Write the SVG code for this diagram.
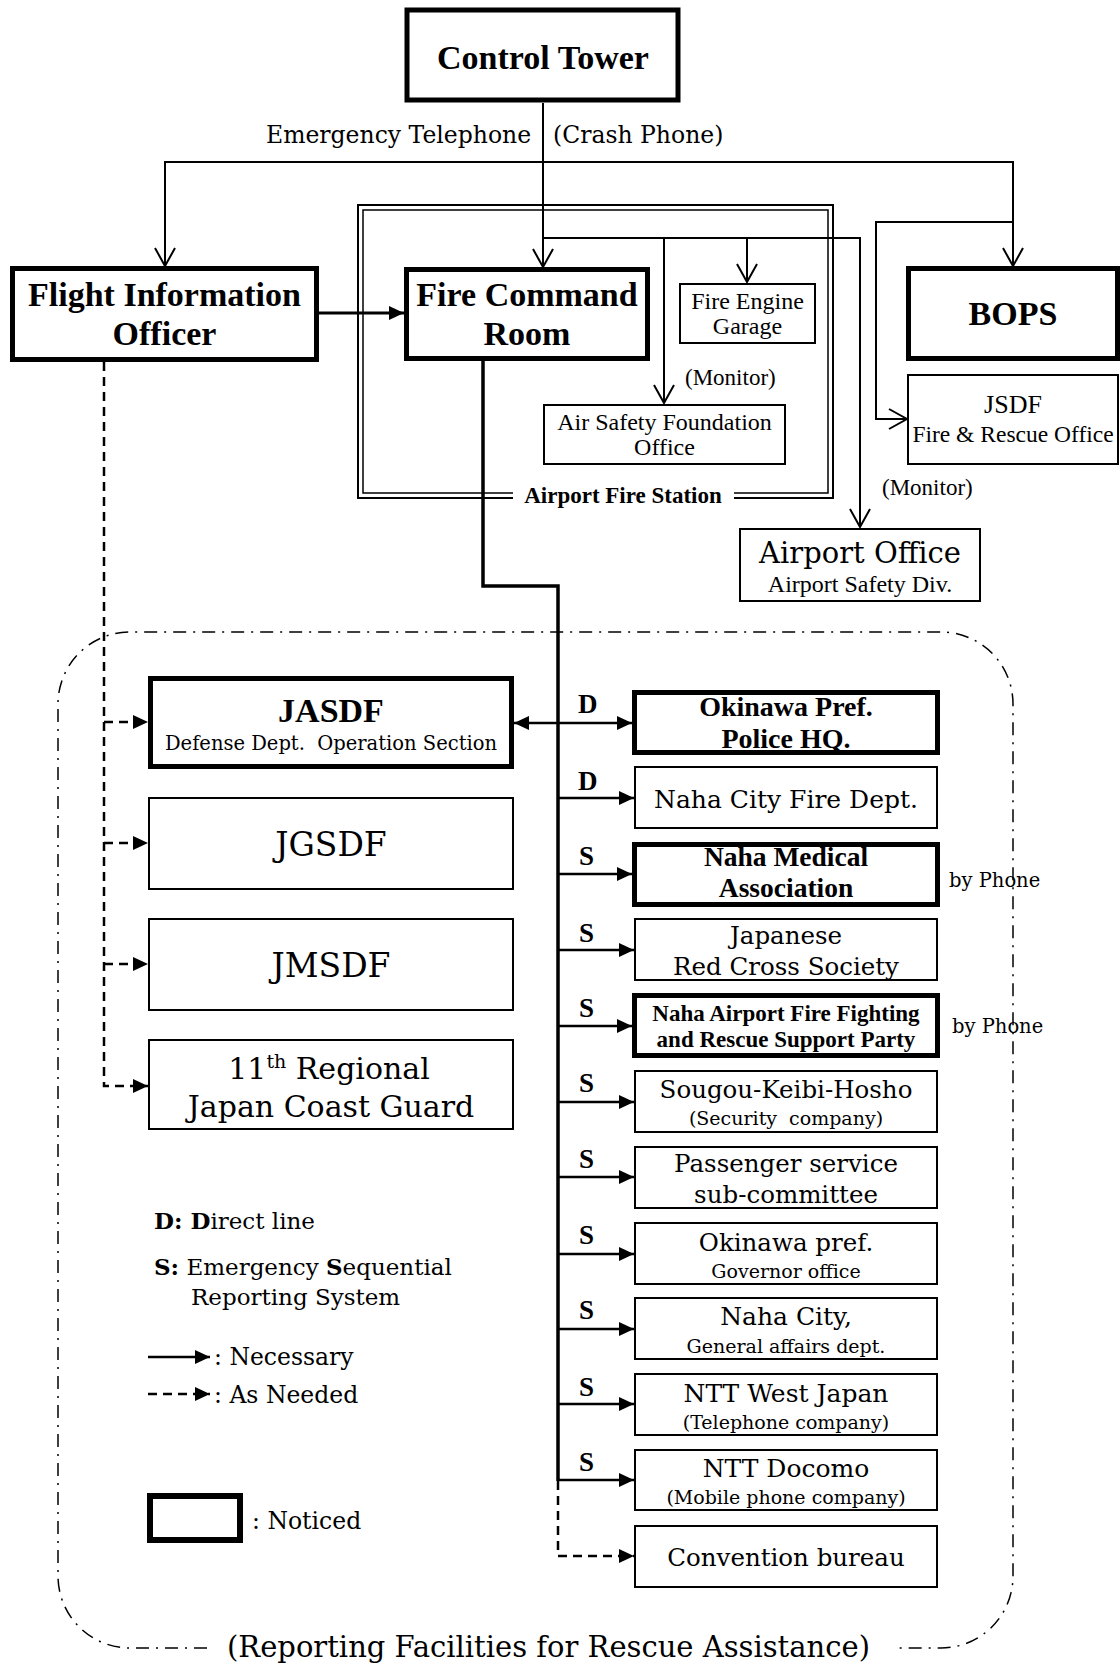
<svg xmlns="http://www.w3.org/2000/svg" width="1120" height="1663" viewBox="0 0 1120 1663">
<defs>
<style>
.bg{fill:#fff}
.bx{fill:#fff;stroke:#000;stroke-width:2}
.bk{fill:#fff;stroke:#000;stroke-width:5}
.ln{fill:none;stroke:#000;stroke-width:2}
.tk{fill:none;stroke:#000;stroke-width:3.5}
.br{fill:none;stroke:#000;stroke-width:2.5}
.ds{fill:none;stroke:#000;stroke-width:2.5;stroke-dasharray:9 6}
.dd{fill:none;stroke:#000;stroke-width:1.5;stroke-dasharray:13 7 2 7}
.cen{font-family:"DejaVu Serif","Liberation Serif",serif;fill:#000}
.tms{font-family:"Liberation Serif","DejaVu Serif",serif;fill:#000}
.tb{font-family:"Liberation Serif","DejaVu Serif",serif;font-weight:bold;fill:#000}
.m{text-anchor:middle}
</style>
<marker id="af" markerUnits="userSpaceOnUse" viewBox="0 0 15 14" markerWidth="15" markerHeight="14" refX="15" refY="7" orient="auto-start-reverse">
<path d="M0,0 L15,7 L0,14 z" fill="#000"/>
</marker>
<marker id="ao" markerUnits="userSpaceOnUse" viewBox="-2 -2 22 24" markerWidth="22" markerHeight="24" refX="18" refY="10" orient="auto">
<path d="M0,0 L18,10 L0,20" fill="none" stroke="#000" stroke-width="2"/>
</marker>
</defs>
<rect class="bg" x="0" y="0" width="1120" height="1663"/>

<!-- reporting facilities frame -->
<g id="frame">
<path class="dd" d="M207,1648 H130 A72,72 0 0 1 58,1576 V704 A72,72 0 0 1 130,632 H941 A72,72 0 0 1 1013,704 V1576 A72,72 0 0 1 941,1648 H895"/>
<text class="cen" x="227" y="1657" font-size="29">(Reporting Facilities for Rescue Assistance)</text>
</g>

<!-- airport fire station double frame -->
<g id="airport-fire-station">
<path fill="none" stroke="#000" stroke-width="2" d="M513,498 H358 V205 H833 V498 H734"/>
<path fill="none" stroke="#000" stroke-width="1.5" d="M513,493 H363 V210 H828 V493 H734"/>
<text class="tb m" x="623" y="503" font-size="23">Airport Fire Station</text>
</g>

<g id="connectors">
<path class="ln" d="M543,103 V267" marker-end="url(#ao)"/>
<path class="ln" d="M543,162 H165 V266" marker-end="url(#ao)"/>
<path class="ln" d="M543,162 H1013 V266" marker-end="url(#ao)"/>
<path class="ln" d="M1013,222 H876 V419 H907" marker-end="url(#ao)"/>
<path class="ln" d="M543,238 H860 V527" marker-end="url(#ao)"/>
<path class="ln" d="M664,238 V403" marker-end="url(#ao)"/>
<path class="ln" d="M747,238 V282" marker-end="url(#ao)"/>
<path fill="none" stroke="#000" stroke-width="3" d="M319,313 H404" marker-end="url(#af)"/>
<!-- FIO dashed -->
<path class="ds" d="M104,362 V1086 H148" marker-end="url(#af)"/>
<path class="ds" d="M104,722 H148" marker-end="url(#af)"/>
<path class="ds" d="M104,843 H148" marker-end="url(#af)"/>
<path class="ds" d="M104,964 H148" marker-end="url(#af)"/>
<!-- trunk -->
<path class="tk" d="M483,361 V586 H558 V1481"/>
<path class="br" d="M514,723 H632" marker-start="url(#af)" marker-end="url(#af)"/>
<path class="br" d="M558,798 H634" marker-end="url(#af)"/>
<path class="br" d="M558,874 H632" marker-end="url(#af)"/>
<path class="br" d="M558,950 H634" marker-end="url(#af)"/>
<path class="br" d="M558,1026 H632" marker-end="url(#af)"/>
<path class="br" d="M558,1102 H634" marker-end="url(#af)"/>
<path class="br" d="M558,1177 H634" marker-end="url(#af)"/>
<path class="br" d="M558,1254 H634" marker-end="url(#af)"/>
<path class="br" d="M558,1329 H634" marker-end="url(#af)"/>
<path class="br" d="M558,1404 H634" marker-end="url(#af)"/>
<path class="br" d="M558,1480 H634" marker-end="url(#af)"/>
<path class="ds" d="M558,1481 V1556 H634" marker-end="url(#af)"/>
</g>

<g id="connector-labels">
<text class="cen" x="266" y="143" font-size="23.5">Emergency Telephone</text>
<text class="cen" x="553" y="143" font-size="23.5">(Crash Phone)</text>
<text class="tms" x="685" y="385" font-size="23">(Monitor)</text>
<text class="tms" x="882" y="495" font-size="23">(Monitor)</text>
<g class="tb" font-size="27">
<text x="578" y="713">D</text>
<text x="578" y="790">D</text>
<text x="579" y="865">S</text>
<text x="579" y="942">S</text>
<text x="579" y="1017">S</text>
<text x="579" y="1092">S</text>
<text x="579" y="1168">S</text>
<text x="579" y="1244">S</text>
<text x="579" y="1319">S</text>
<text x="579" y="1396">S</text>
<text x="579" y="1471">S</text>
</g>
<text class="cen" x="949" y="887" font-size="19.5">by Phone</text>
<text class="cen" x="952" y="1033" font-size="19.5">by Phone</text>
</g>

<g id="control-tower">
<rect class="bk" x="407" y="10" width="271" height="90"/>
<text class="tb m" x="543" y="69" font-size="34">Control Tower</text>
</g>
<g id="flight-information-officer">
<rect class="bk" x="12.5" y="268.5" width="304" height="91"/>
<text class="tb m" x="164.5" y="306" font-size="34">Flight Information</text>
<text class="tb m" x="164.5" y="345" font-size="34">Officer</text>
</g>
<g id="fire-command-room">
<rect class="bk" x="406.5" y="269.5" width="241" height="89"/>
<text class="tb m" x="527" y="306" font-size="34">Fire Command</text>
<text class="tb m" x="527" y="345" font-size="34">Room</text>
</g>
<g id="fire-engine-garage">
<rect class="bx" x="680" y="284" width="135" height="59"/>
<text class="tms m" x="747.5" y="309" font-size="24">Fire Engine</text>
<text class="tms m" x="747.5" y="334" font-size="24">Garage</text>
</g>
<g id="air-safety-foundation-office">
<rect class="bx" x="544" y="405" width="241" height="59"/>
<text class="tms m" x="664.5" y="430" font-size="24">Air Safety Foundation</text>
<text class="tms m" x="664.5" y="455" font-size="24">Office</text>
</g>
<g id="bops">
<rect class="bk" x="908.5" y="268.5" width="209" height="90"/>
<text class="tb m" x="1013" y="325" font-size="34">BOPS</text>
</g>
<g id="jsdf-fire-rescue">
<rect class="bx" x="908" y="375" width="210" height="89"/>
<text class="tms m" x="1013" y="413" font-size="26">JSDF</text>
<text class="tms m" x="1013" y="442" font-size="23.5">Fire &amp; Rescue Office</text>
</g>
<g id="airport-office">
<rect class="bx" x="740" y="529" width="240" height="72"/>
<text class="cen m" x="860" y="563" font-size="29">Airport Office</text>
<text class="tms m" x="860" y="592" font-size="24">Airport Safety Div.</text>
</g>

<g id="jasdf">
<rect class="bk" x="150.5" y="678.5" width="361" height="88"/>
<text class="tb m" x="331" y="722" font-size="34">JASDF</text>
<text class="cen m" x="331" y="750" font-size="19.5">Defense Dept.&#160; Operation Section</text>
</g>
<g id="jgsdf">
<rect class="bx" x="149" y="798" width="364" height="91"/>
<text class="cen m" x="331" y="856" font-size="33">JGSDF</text>
</g>
<g id="jmsdf">
<rect class="bx" x="149" y="919" width="364" height="91"/>
<text class="cen m" x="331" y="977" font-size="33">JMSDF</text>
</g>
<g id="coast-guard">
<rect class="bx" x="149" y="1040" width="364" height="89"/>
<text class="cen m" x="329" y="1079" font-size="30">11<tspan dy="-11" font-size="19">th</tspan><tspan dy="11"> Regional</tspan></text>
<text class="cen m" x="331" y="1117" font-size="30">Japan Coast Guard</text>
</g>

<g id="okinawa-police">
<rect class="bk" x="634.5" y="692.5" width="303" height="60"/>
<text class="tb m" x="786" y="716" font-size="28">Okinawa Pref.</text>
<text class="tb m" x="786" y="748" font-size="28">Police HQ.</text>
</g>
<g id="naha-fire">
<rect class="bx" x="635" y="767" width="302" height="61"/>
<text class="cen m" x="786" y="808" font-size="25">Naha City Fire Dept.</text>
</g>
<g id="naha-medical">
<rect class="bk" x="634.5" y="844.5" width="303" height="60"/>
<text class="tb m" x="786" y="866" font-size="27.5">Naha Medical</text>
<text class="tb m" x="786" y="897" font-size="27.5">Association</text>
</g>
<g id="red-cross">
<rect class="bx" x="635" y="919" width="302" height="61"/>
<text class="cen m" x="786" y="944" font-size="24.5">Japanese</text>
<text class="cen m" x="786" y="975" font-size="24.5">Red Cross Society</text>
</g>
<g id="support-party">
<rect class="bk" x="634.5" y="995.5" width="303" height="60"/>
<text class="tb m" x="786" y="1021" font-size="23">Naha Airport Fire Fighting</text>
<text class="tb m" x="786" y="1047" font-size="23">and Rescue Support Party</text>
</g>
<g id="sougou">
<rect class="bx" x="635" y="1071" width="302" height="61"/>
<text class="cen m" x="786" y="1098" font-size="24.5">Sougou-Keibi-Hosho</text>
<text class="cen m" x="786" y="1125" font-size="19" xml:space="preserve">(Security  company)</text>
</g>
<g id="passenger">
<rect class="bx" x="635" y="1147" width="302" height="61"/>
<text class="cen m" x="786" y="1172" font-size="24.5">Passenger service</text>
<text class="cen m" x="786" y="1203" font-size="24.5">sub-committee</text>
</g>
<g id="okinawa-pref">
<rect class="bx" x="635" y="1223" width="302" height="61"/>
<text class="cen m" x="786" y="1251" font-size="24.5">Okinawa pref.</text>
<text class="cen m" x="786" y="1278" font-size="19">Governor office</text>
</g>
<g id="naha-city">
<rect class="bx" x="635" y="1298" width="302" height="61"/>
<text class="cen m" x="786" y="1325" font-size="25">Naha City,</text>
<text class="cen m" x="786" y="1353" font-size="19">General affairs dept.</text>
</g>
<g id="ntt-west">
<rect class="bx" x="635" y="1374" width="302" height="61"/>
<text class="cen m" x="786" y="1402" font-size="25">NTT West Japan</text>
<text class="cen m" x="786" y="1429" font-size="19">(Telephone company)</text>
</g>
<g id="ntt-docomo">
<rect class="bx" x="635" y="1450" width="302" height="60"/>
<text class="cen m" x="786" y="1477" font-size="25">NTT Docomo</text>
<text class="cen m" x="786" y="1504" font-size="19">(Mobile phone company)</text>
</g>
<g id="convention">
<rect class="bx" x="635" y="1526" width="302" height="61"/>
<text class="cen m" x="786" y="1566" font-size="24.5">Convention bureau</text>
</g>

<g id="legend">
<text class="cen" x="154" y="1229" font-size="23"><tspan font-weight="bold">D: D</tspan>irect line</text>
<text class="cen" x="154" y="1275" font-size="23"><tspan font-weight="bold">S:</tspan> Emergency <tspan font-weight="bold">S</tspan>equential</text>
<text class="cen" x="191" y="1305" font-size="23">Reporting System</text>
<path fill="none" stroke="#000" stroke-width="2.5" d="M148,1357 H210" marker-end="url(#af)"/>
<text class="cen" x="214" y="1365" font-size="23.5">: Necessary</text>
<path class="ds" d="M148,1394 H210" marker-end="url(#af)"/>
<text class="cen" x="214" y="1403" font-size="23.5">: As Needed</text>
<rect fill="#fff" stroke="#000" stroke-width="6" x="150" y="1496" width="90" height="44"/>
<text class="cen" x="252" y="1529" font-size="23.5">: Noticed</text>
</g>
</svg>
